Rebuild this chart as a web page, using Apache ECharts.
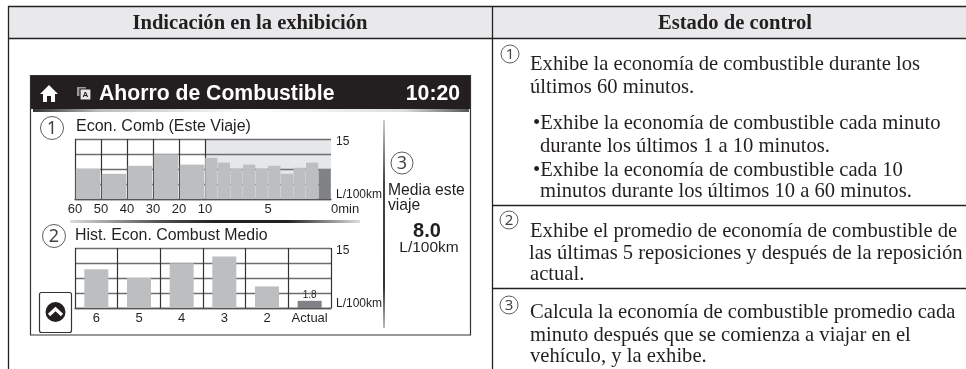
<!DOCTYPE html>
<html><head><meta charset="utf-8">
<style>html,body{margin:0;padding:0;background:#fff}#c{width:966px;height:369px}</style>
<script src="https://cdn.jsdelivr.net/npm/echarts@6/dist/echarts.min.js"></script>
</head><body><div id="c"></div>
<script>
const tenMinuteStarts = [-55, -45, -35, -25, -15];
const tenMinuteValues = [7.5, 6.3, 8.3, 11.2, 8.6];
const oneMinuteStarts = [-9.5, -8.5, -7.5, -6.5, -5.5, -4.5, -3.5, -2.5, -1.5, -0.5];
const oneMinuteValues = [10.3, 9.1, 7.5, 8.6, 7.5, 8.3, 6.3, 7.8, 9.1, 7.5];
const historyLabels = ['6', '5', '4', '3', '2', 'Actual'];
const historyValues = [9.7, 7.5, 11.2, 12.9, 5.4, 1.8];
const yMax = 15;
const yStep = 3.75;
const unitLabel = 'L/100km';
const titleTop = 'Econ. Comb (Este Viaje)';
const titleBottom = 'Hist. Econ. Combust Medio';
const headerLeft = 'Indicación en la exhibición';
const headerRight = 'Estado de control';
const bodyLines = [
  ['Exhibe la economía de combustible durante los', 530, 70],
  ['últimos 60 minutos.', 530, 93],
  ['•Exhibe la economía de combustible cada minuto', 533, 129],
  ['durante los últimos 1 a 10 minutos.', 540, 152],
  ['•Exhibe la economía de combustible cada 10', 533, 176],
  ['minutos durante los últimos 10 a 60 minutos.', 540, 197],
  ['Exhibe el promedio de economía de combustible de', 530, 237],
  ['las últimas 5 reposiciones y después de la reposición', 529, 259],
  ['actual.', 530, 280],
  ['Calcula la economía de combustible promedio cada', 530, 318],
  ['minuto después que se comienza a viajar en el', 530, 341],
  ['vehículo, y la exhibe.', 530, 362]
];

const SANS = '"Liberation Sans", Arial, sans-serif';
const SERIF = '"Liberation Serif", "Times New Roman", serif';
const BAR = '#bcbec0', DARK = '#808285', LINE = '#6d6e71', VLINE = '#333333', INK = '#231f20';

function line(x1, y1, x2, y2, stroke, w) {
  return {type: 'line', silent: true, shape: {x1, y1, x2, y2}, style: {stroke: stroke || INK, lineWidth: w || 1}};
}
function text(t, x, y, font, size, opt) {
  opt = opt || {};
  return {type: 'text', silent: true, x, y, z: 5, style: {text: t, fontFamily: font, fontSize: size,
    fontWeight: opt.weight || 'normal', fill: opt.fill || INK, align: opt.align || 'left',
    verticalAlign: opt.valign || 'middle'}};
}
function rect(x, y, width, height, fill, stroke, r) {
  return {type: 'rect', silent: true, shape: {x, y, width, height, r: r || 0},
    style: {fill: fill || 'none', stroke: stroke || 'none', lineWidth: stroke ? 1.2 : 0}};
}
function grad(x2, y2, stops) {
  return {type: 'linear', x: 0, y: 0, x2, y2, colorStops: stops.map(c => ({offset: c[0], color: c[1]}))};
}
function circled(n, cx, cy, r, size) {
  return [
    {type: 'circle', silent: true, shape: {cx, cy, r}, style: {fill: '#fff', stroke: '#333', lineWidth: 0.8}},
    text(n, cx, cy + 0.5, '"Noto Sans"', size, {align: 'center', fill: '#444'})
  ];
}

const graphics = [
  // table
  rect(8.5, 6.5, 958, 32, '#e9e9eb'),
  line(8, 6.5, 966, 6.5, '#222', 1.3),
  line(8, 38.5, 966, 38.5, '#222', 1.3),
  line(8.5, 6, 8.5, 369, '#222', 1.3),
  line(492.5, 6, 492.5, 369, '#222', 1.3),
  line(492, 205.5, 966, 205.5, '#222', 1.3),
  line(492, 288.5, 966, 288.5, '#222', 1.3),
  text(headerLeft, 250, 24, SERIF, 20.6, {weight: 'bold', align: 'center'}),
  text(headerRight, 735, 24, SERIF, 20.6, {weight: 'bold', align: 'center'}),
  // display panel
  rect(30.5, 75.5, 440, 33.5, '#231f20'),
  rect(30.5, 75.5, 440, 259.5, 'none', '#333'),
  rect(33, 109, 436, 3, grad(1, 0, [[0, '#333'], [0.15, '#bbb'], [0.5, '#fff'], [0.85, '#ddd'], [1, '#555']])),
  rect(70, 220, 290, 3, grad(1, 0, [[0, '#ddd'], [0.3, '#555'], [0.5, '#222'], [0.75, '#222'], [1, '#ddd']])),
  rect(383, 120, 2, 208, grad(0, 1, [[0, '#ccc'], [0.3, '#444'], [0.8, '#333'], [1, '#bbb']])),
  // home icon
  {type: 'polygon', silent: true, shape: {points: [[49, 85], [40, 94], [43, 94], [43, 102], [55, 102], [55, 94], [58, 94]]}, style: {fill: '#fff'}},
  rect(47, 96, 4, 6, '#231f20'),
  // document icon
  rect(77, 87, 9, 9, '#999'),
  rect(80, 89, 11, 11, '#e6e7e8', '#231f20'),
  text('A', 85.5, 94.5, SANS, 8, {align: 'center', weight: 'bold'}),
  text('Ahorro de Combustible', 99, 94, SANS, 21.2, {weight: 'bold', fill: '#fff'}),
  text('10:20', 460, 94, SANS, 21.2, {weight: 'bold', fill: '#fff', align: 'right'}),
  text(titleTop, 76, 127, SANS, 16),
  text(titleBottom, 75, 236, SANS, 15.9),
  text('Media este', 388, 191, SANS, 15.7),
  text('viaje', 388, 206, SANS, 15.7),
  text('8.0', 427, 231, SANS, 20, {weight: 'bold', align: 'center'}),
  text(unitLabel, 429, 248, SANS, 15.5, {align: 'center'}),
  ...circled('1', 52, 128, 11.5, 18),
  ...circled('2', 54, 236, 11.5, 18),
  ...circled('3', 402, 163, 11, 18),
  ...circled('1', 510, 54, 9, 15),
  ...circled('2', 509, 220, 9, 15),
  ...circled('3', 509, 305, 9, 15),
  // return button
  rect(39.5, 292.5, 32, 40, '#fff', '#333', 2),
  {type: 'circle', silent: true, shape: {cx: 55.5, cy: 312, r: 10}, style: {fill: '#231f20'}},
  {type: 'polyline', silent: true, shape: {points: [[49, 315], [55.5, 309], [62, 315]]}, style: {stroke: '#fff', lineWidth: 3.2, fill: 'none'}}
];
bodyLines.forEach(l => graphics.push(text(l[0], l[1], l[2] - 5.5, SERIF, 20.6)));

const yLabelFmt = v => v === 0 ? '{u|' + unitLabel + '}' : v === yMax ? '{m|' + yMax + '}' : '';
function yAxis(gridIndex, showLabels) {
  return {type: 'value', gridIndex, min: 0, max: yMax, interval: yStep, position: 'right',
    axisLine: {show: false}, axisTick: {show: false},
    splitLine: {show: true, lineStyle: {color: LINE, width: 1.3}},
    axisLabel: {show: showLabels, formatter: yLabelFmt, margin: 5, hideOverlap: false,
      rich: {
        u: {fontFamily: SANS, fontSize: 12, color: INK, padding: [0, 0, 8, 0]},
        m: {fontFamily: SANS, fontSize: 12, color: INK, padding: [5, 0, 0, 0]}
      }}};
}
const xLine = {show: true, lineStyle: {color: '#555', width: 1.3}};
const xLabel = {fontFamily: SANS, fontSize: 13, color: INK, margin: 4, hideOverlap: false, showMinLabel: true, showMaxLabel: true};

const option = {
  animation: false,
  backgroundColor: '#fff',
  graphic: graphics,
  grid: [
    {left: 75, top: 139, width: 130, height: 60},
    {left: 205, top: 139, width: 126, height: 60, show: true, backgroundColor: '#e6e7e8', borderWidth: 0},
    {left: 75, top: 248, width: 256, height: 60}
  ],
  xAxis: [
    {type: 'value', gridIndex: 0, min: -60, max: -10, interval: 10, axisLine: xLine, axisTick: {show: false},
      splitLine: {show: true, lineStyle: {color: VLINE, width: 1.2}},
      axisLabel: Object.assign({}, xLabel, {formatter: v => String(Math.abs(v))})},
    {type: 'value', gridIndex: 1, min: -10, max: 0, interval: 5, axisLine: xLine, axisTick: {show: false},
      splitLine: {show: false},
      axisLabel: Object.assign({}, xLabel, {alignMaxLabel: 'left', formatter: v => v === -10 ? '' : v === 0 ? '0min' : String(Math.abs(v))})},
    {type: 'category', gridIndex: 2, data: historyLabels, axisLine: xLine, axisTick: {show: false},
      splitLine: {show: true, lineStyle: {color: VLINE, width: 1.2}},
      axisLabel: Object.assign({}, xLabel, {interval: 0})}
  ],
  yAxis: [yAxis(0, false), yAxis(1, true), yAxis(2, true)],
  series: [
    {type: 'bar', xAxisIndex: 0, yAxisIndex: 0, barWidth: 24.5, itemStyle: {color: BAR},
      data: tenMinuteStarts.map((x, i) => [x, tenMinuteValues[i]])},
    {type: 'bar', xAxisIndex: 1, yAxisIndex: 1, barWidth: 12.2,
      data: oneMinuteStarts.map((x, i) => ({value: [x, oneMinuteValues[i]],
        itemStyle: {color: i === oneMinuteStarts.length - 1 ? DARK : BAR}}))},
    {type: 'bar', xAxisIndex: 2, yAxisIndex: 2, barWidth: 24,
      data: historyValues.map((v, i) => i === historyValues.length - 1
        ? {value: v, itemStyle: {color: DARK}, label: {show: true, position: 'top', distance: 1, fontFamily: SANS, fontSize: 10, color: INK, formatter: p => p.value.toFixed(1)}}
        : {value: v, itemStyle: {color: BAR}})}
  ]
};
echarts.init(document.getElementById('c'), null, {renderer: 'canvas'}).setOption(option);
</script></body></html>
